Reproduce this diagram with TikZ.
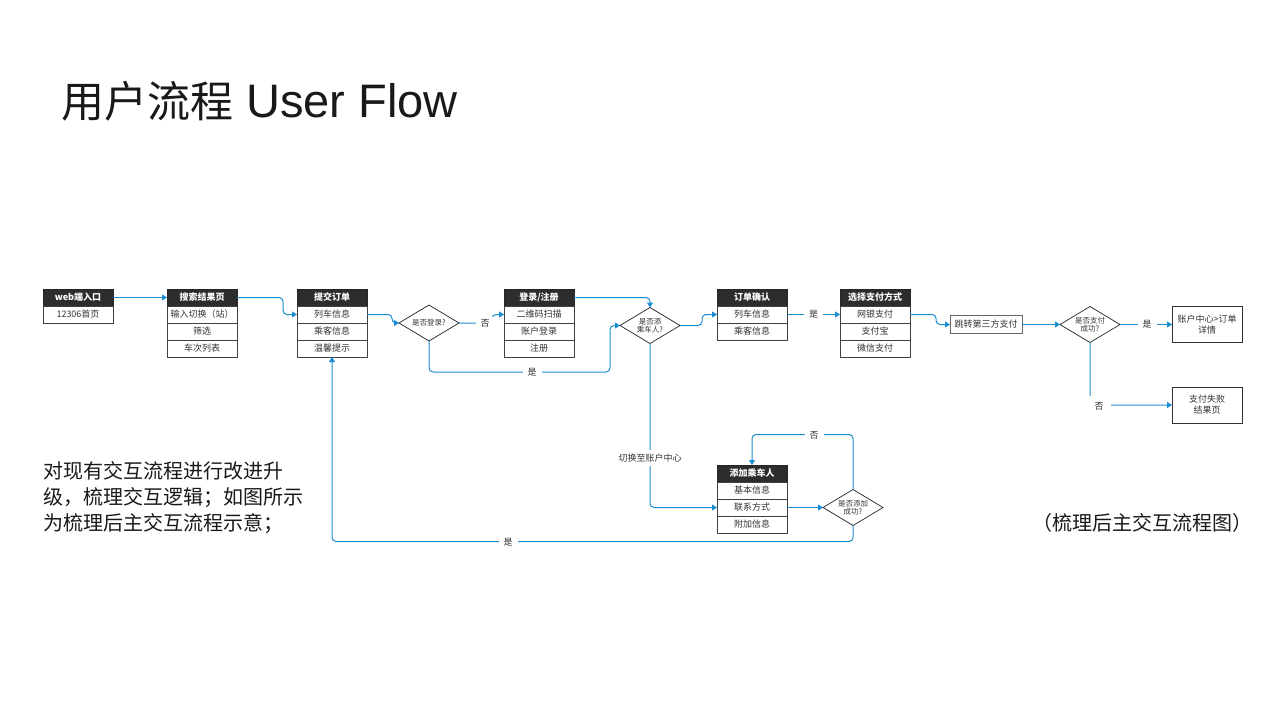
\documentclass[tikz,border=0pt]{standalone}
\usepackage{fontspec}
\setmainfont{Noto Sans CJK SC}
\newfontfamily\latinfont{Liberation Sans}
\usetikzlibrary{arrows.meta,shapes.geometric}
\definecolor{flowblue}{HTML}{1A8DD0}
\definecolor{hdrgray}{HTML}{2D2D2D}
\definecolor{txtgray}{HTML}{333333}
\begin{document}
\begin{tikzpicture}[x=1pt,y=-1pt,
  hdr/.style={draw=black!85,fill=hdrgray,text=white,font=\bfseries\fontsize{9}{10}\selectfont,minimum width=70pt,minimum height=17pt,inner sep=0pt,outer sep=0pt,anchor=north west,line width=0.7pt},
  row/.style={draw=black!75,fill=white,text=txtgray,font=\fontsize{9}{10}\selectfont,minimum width=70pt,minimum height=17pt,inner sep=0pt,outer sep=0pt,anchor=north west,line width=0.7pt},
  dia/.style={draw=black!85,line width=0.7pt,shape=diamond,aspect=1.67,minimum width=60pt,minimum height=36pt,inner sep=0pt,outer sep=0pt,align=center,font=\fontsize{7.5}{8.5}\selectfont,text=txtgray},
  plain/.style={draw=black!80,line width=0.7pt,minimum width=70pt,minimum height=36pt,inner sep=0pt,outer sep=0pt,align=center,font=\fontsize{9}{11}\selectfont,text=txtgray},
  flow/.style={draw=flowblue,line width=1pt,rounded corners=4pt,-{Triangle[length=5pt,width=6pt]}},
  lbl/.style={fill=white,inner xsep=5pt,inner ysep=2pt,font=\fontsize{9}{10}\selectfont,text=txtgray},
  bigtext/.style={anchor=base west,inner sep=0pt,font=\fontsize{20}{26}\selectfont,text=black!90},
]
\fill[white] (0,0) rectangle (1280,720);
\useasboundingbox (0,0) rectangle (1280,720);

% title
\node[anchor=base west,inner sep=0pt,text=black!90] (title) at (61,117)
  {\fontsize{43}{50}\selectfont 用户流程{\latinfont\fontsize{47}{50}\selectfont\ User Flow}};

% boxes
\node[hdr] (b1h) at (43,289) {web端入口};
\node[row] (b1r1) at (b1h.south west) {12306首页};

\node[hdr] (b2h) at (167,289) {搜索结果页};
\node[row] (b2r1) at (b2h.south west) {输入切换（站）};
\node[row] (b2r2) at (b2r1.south west) {筛选};
\node[row] (b2r3) at (b2r2.south west) {车次列表};

\node[hdr] (b3h) at (297,289) {提交订单};
\node[row] (b3r1) at (b3h.south west) {列车信息};
\node[row] (b3r2) at (b3r1.south west) {乘客信息};
\node[row] (b3r3) at (b3r2.south west) {温馨提示};

\node[dia] (d1) at (429,323) {是否登录?};

\node[hdr] (b4h) at (504,289) {登录/注册};
\node[row] (b4r1) at (b4h.south west) {二维码扫描};
\node[row] (b4r2) at (b4r1.south west) {账户登录};
\node[row] (b4r3) at (b4r2.south west) {注册};

\node[dia] (d2) at (650,325.5) {是否添\\乘车人?};

\node[hdr] (b5h) at (717,289) {订单确认};
\node[row] (b5r1) at (b5h.south west) {列车信息};
\node[row] (b5r2) at (b5r1.south west) {乘客信息};

\node[hdr] (b6h) at (840,289) {选择支付方式};
\node[row] (b6r1) at (b6h.south west) {网银支付};
\node[row] (b6r2) at (b6r1.south west) {支付宝};
\node[row] (b6r3) at (b6r2.south west) {微信支付};

\node[plain,draw=black!60,line width=1pt,minimum width=72pt,minimum height=18pt] (jump) at (986,324.5) {跳转第三方支付};
\node[dia] (d3) at (1090,324.5) {是否支付\\成功?};
\node[plain] (acct) at (1207,324.5) {账户中心>订单\\详情};
\node[plain] (fail) at (1207,405) {支付失败\\结果页};

\node[hdr] (b7h) at (717,465) {添加乘车人};
\node[row] (b7r1) at (b7h.south west) {基本信息};
\node[row] (b7r2) at (b7r1.south west) {联系方式};
\node[row] (b7r3) at (b7r2.south west) {附加信息};

\node[dia] (d4) at (853,507.5) {是否添加\\成功?};

% connectors
\draw[flow] (b1h.east) -- (b2h.west);
\draw[flow] (b2h.east) -- ++(46,0) |- (b3r1.west);
\draw[flow] (b3r1.east) -- ++(25,0) |- (d1.west);
\draw[flow] (d1.east) -- (492,323) |- (b4r1.west);
\draw[flow] (d1.south) |- (610,372) |- (d2.west);
\draw[flow] (b4h.east) -| (d2.north);
\draw[flow] (d2.east) -- ++(22,0) |- (b5r1.west);
\draw[flow] (b5r1.east) -- (b6r1.west);
\draw[flow] (b6r1.east) -- ++(26,0) |- (jump.west);
\draw[flow] (jump.east) -- (d3.west);
\draw[flow] (d3.east) -- (acct.west);
\draw[flow] (d3.south) |- (fail.west);
\draw[flow] (d2.south) |- (b7r2.west);
\draw[flow] (b7r2.east) -- (d4.west);
\draw[flow] (d4.north) -- ++(0,-55) -| (b7h.north);
\draw[flow] (d4.south) -- ++(0,16) -| (b3r3.south);

% connector labels
\node[lbl] (l1) at (485,323) {否};
\node[lbl] (l2) at (532,372) {是};
\node[lbl] (l3) at (813.5,314.5) {是};
\node[lbl] (l4) at (1147,324.5) {是};
\node[lbl,minimum width=24pt,minimum height=20pt] (l5) at (1099,406) {否};
\node[lbl,inner xsep=2pt,inner ysep=4pt] (l6) at (650,458) {切换至账户中心};
\node[lbl] (l7) at (814,435) {否};
\node[lbl] (l8) at (508,542) {是};

% texts
\node[bigtext] (t1) at (43.5,478) {对现有交互流程进行改进升};
\node[bigtext] (t2) at (43.5,504.5) {级，梳理交互逻辑；如图所示};
\node[bigtext] (t3) at (43.5,530.5) {为梳理后主交互流程示意；};
\node[anchor=base,inner sep=0pt,font=\fontsize{20}{26}\selectfont,text=black!90] (cap) at (1142,530) {（梳理后主交互流程图）};
\end{tikzpicture}
\end{document}
